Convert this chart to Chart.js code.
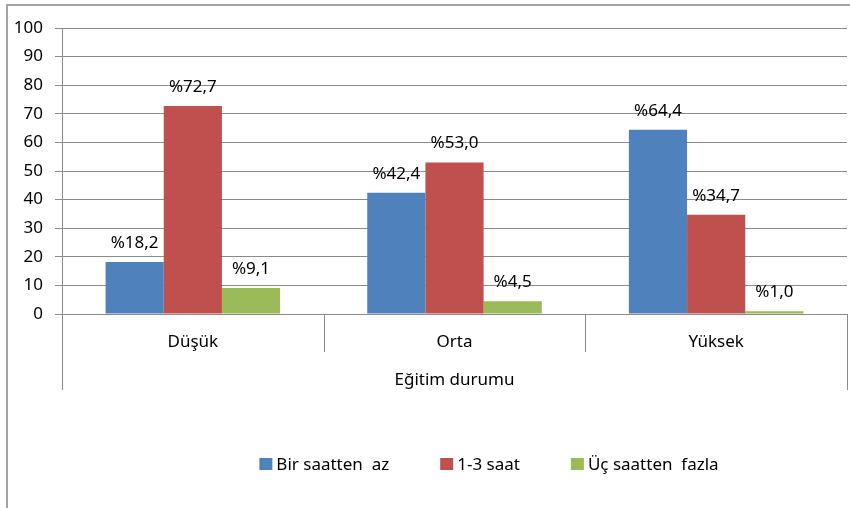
<!DOCTYPE html>
<html>
<head>
<meta charset="utf-8">
<script src="https://cdn.jsdelivr.net/npm/chart.js@4/dist/chart.umd.min.js"></script>
<style>
  html, body { margin: 0; padding: 0; background: #fff; }
  #wrap { position: relative; width: 850px; height: 508px; overflow: hidden; }
  #frame { position: absolute; left: 6px; top: 4px; width: 900px; height: 600px;
           border-left: 2px solid #a3a3a3; border-top: 2px solid #a3a3a3; }
  canvas { position: absolute; left: 0; top: 0; }
</style>
</head>
<body>
<div id="wrap">
  <div id="frame"></div>
  <canvas id="c" width="850" height="508"></canvas>
</div>
<script>
const categories = ['Düşük', 'Orta', 'Yüksek'];
const seriesNames = ['Bir saatten  az', '1-3 saat', 'Üç saatten  fazla'];
const birSaattenAz = [18.2, 42.4, 64.4];
const birUcSaat = [72.7, 53.0, 34.7];
const ucSaattenFazla = [9.1, 4.5, 1.0];
const yMin = 0, yMax = 100, yStep = 10;
const axisTitle = 'Eğitim durumu';

const colors = ['#4F81BD', '#C0504D', '#9BBB59'];
const gridColor = '#8a8a8a';
const FONT = '"Noto Sans", sans-serif';

const dataLabelPlugin = {
  id: 'dataLabels',
  afterDatasetsDraw(chart) {
    const ctx = chart.ctx;
    ctx.save();
    ctx.font = '17px ' + FONT;
    ctx.fillStyle = '#000';
    ctx.textAlign = 'center';
    ctx.textBaseline = 'middle';
    chart.data.datasets.forEach((ds, di) => {
      chart.getDatasetMeta(di).data.forEach((bar, i) => {
        const txt = '%' + ds.data[i].toFixed(1).replace('.', ',');
        ctx.fillText(txt, bar.x, bar.y - 19);
      });
    });
    ctx.restore();
  }
};

const axisDecorPlugin = {
  id: 'axisDecor',
  afterDraw(chart) {
    const ctx = chart.ctx;
    const x = chart.scales.x;
    const area = chart.chartArea;
    const n = categories.length;
    const bounds = [area.left];
    for (let i = 0; i < n - 1; i++) {
      bounds.push((x.getPixelForValue(i) + x.getPixelForValue(i + 1)) / 2);
    }
    bounds.push(area.right);
    ctx.save();
    ctx.strokeStyle = gridColor;
    ctx.lineWidth = 1;
    bounds.forEach((b, i) => {
      const outer = (i === 0 || i === bounds.length - 1);
      const xx = Math.round(b) + 0.5;
      ctx.beginPath();
      ctx.moveTo(xx, area.bottom);
      ctx.lineTo(xx, area.bottom + (outer ? 76 : 38));
      ctx.stroke();
    });
    ctx.restore();

    // legend
    ctx.save();
    ctx.font = '17px ' + FONT;
    ctx.textBaseline = 'middle';
    ctx.textAlign = 'left';
    const box = 13, gapText = 4, gapItem = 51;
    const widths = chart.data.datasets.map(d => box + gapText + ctx.measureText(d.label).width);
    const total = widths.reduce((a, b) => a + b, 0) + gapItem * (widths.length - 1);
    let lx = 489 - total / 2;
    const ly = 464;
    chart.data.datasets.forEach((d, i) => {
      ctx.fillStyle = d.backgroundColor;
      ctx.fillRect(lx, ly - 6, box, 12);
      ctx.fillStyle = '#000';
      ctx.fillText(d.label, lx + box + gapText, ly + 1);
      lx += widths[i] + gapItem;
    });
    ctx.restore();
  }
};

new Chart(document.getElementById('c'), {
  type: 'bar',
  data: {
    labels: categories,
    datasets: [
      { label: seriesNames[0], data: birSaattenAz, backgroundColor: colors[0] },
      { label: seriesNames[1], data: birUcSaat, backgroundColor: colors[1] },
      { label: seriesNames[2], data: ucSaattenFazla, backgroundColor: colors[2] }
    ]
  },
  options: {
    responsive: false,
    animation: false,
    devicePixelRatio: 1,
    layout: { padding: { top: 28, right: 3, bottom: 0, left: 0 } },
    datasets: { bar: { categoryPercentage: 0.667, barPercentage: 1.0, borderWidth: 0 } },
    plugins: { legend: { display: false }, tooltip: { enabled: false } },
    scales: {
      x: {
        grid: { display: false, drawTicks: false },
        border: { display: true, color: gridColor, width: 1 },
        ticks: { font: { family: FONT, size: 17 }, color: '#000', padding: 18 },
        title: { display: true, text: axisTitle, font: { family: FONT, size: 17 }, color: '#000',
                 padding: { top: 0, bottom: 118 } },
        afterFit(scale) { scale.height = 194; }
      },
      y: {
        min: yMin, max: yMax,
        ticks: { stepSize: yStep, font: { family: FONT, size: 17 }, color: '#000', padding: 12 },
        grid: { color: gridColor, tickLength: 7, drawTicks: true, tickColor: gridColor },
        border: { display: true, color: gridColor, width: 1 },
        afterFit(scale) { scale.width = 62; }
      }
    }
  },
  plugins: [dataLabelPlugin, axisDecorPlugin]
});
</script>
</body>
</html>
